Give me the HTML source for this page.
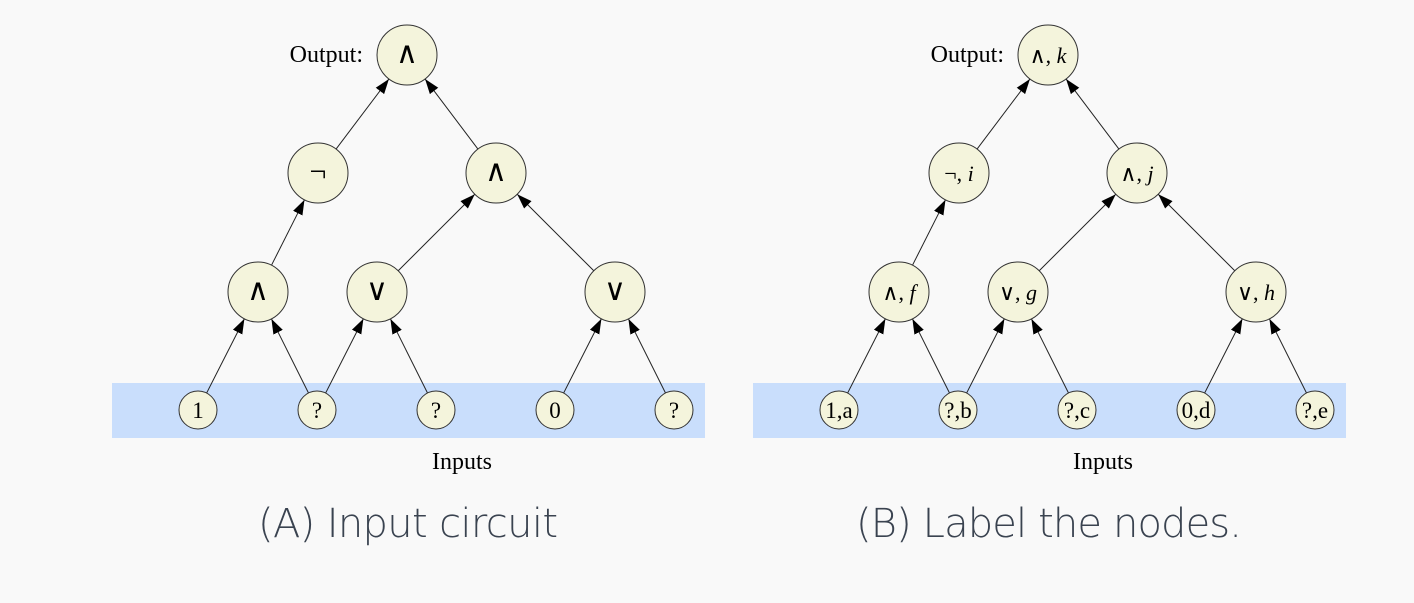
<!DOCTYPE html>
<html><head><meta charset="utf-8"><style>
html,body{margin:0;padding:0;background:#f9f9f9;}
svg{display:block;}
</style></head><body>
<svg id="s" width="1414" height="603" xmlns="http://www.w3.org/2000/svg">
<defs><marker id="ah" viewBox="0 0 10 10" refX="10" refY="5" markerWidth="15" markerHeight="15" orient="auto" markerUnits="userSpaceOnUse"><path d="M0,1.5 L10,5 L0,8.5 z" fill="#000"/></marker></defs>
<rect x="0" y="0" width="1414" height="603" fill="#f9f9f9"/>
</svg>
<script>
const NS='http://www.w3.org/2000/svg';
const svg=document.getElementById('s');
const panelOffsets=[0,641];
const panelNames=['panel-a','panel-b'];
const captions=['(A) Input circuit','(B) Label the nodes.'];
const nodesX=[407,318,496,258,377,615,198,317,436,555,674];
const nodesY=[55,173,173,292,292,292,410,410,410,410,410];
const nodesR=[30,30,30,30,30,30,19,19,19,19,19];
const labelsA=['∧','¬','∧','∧','∨','∨','1','?','?','0','?'];
const symB=['∧','¬','∧','∧','∨','∨','1','?','?','0','?'];
const letB=['k','i','j','f','g','h','a','b','c','d','e'];
const edgesFrom=[1,2,3,4,5,6,7,7,8,9,10];
const edgesTo=[0,0,1,2,2,3,3,4,4,5,5];
function el(t,a,p){const e=document.createElementNS(NS,t);for(const k in a)e.setAttribute(k,a[k]);(p||svg).appendChild(e);return e;}
panelOffsets.forEach((off,pi)=>{
  const g=el('g',{});
  
  
  const band=el('rect',{x:112+off,y:383,width:593,height:55,fill:'#c9defc'},g);
  
  
  edgesFrom.forEach((f,i)=>{
    const t=edgesTo[i];
    const x1=nodesX[f]+off,y1=nodesY[f],x2=nodesX[t]+off,y2=nodesY[t];
    const dx=x2-x1,dy=y2-y1,L=Math.hypot(dx,dy);
    const ux=dx/L,uy=dy/L;
    const ln=el('line',{x1:x1+ux*nodesR[f],y1:y1+uy*nodesR[f],x2:x2-ux*nodesR[t],y2:y2-uy*nodesR[t],stroke:'#222','stroke-width':1,'marker-end':'url(#ah)'},g);
    
    
  });
  nodesX.forEach((x,i)=>{
    const c=el('circle',{cx:x+off,cy:nodesY[i],r:nodesR[i],fill:'#f4f4dc',stroke:'#333','stroke-width':1},g);
    
    
    const big=i<6;
    const tx=el('text',{x:x+off,y:nodesY[i]+(big?8:8),'text-anchor':'middle','font-family':'"Liberation Serif","DejaVu Serif",serif','font-size':big?(pi===0?30:22):23,fill:'#000'},g);
    if(pi===0){tx.textContent=labelsA[i];}
    else{
      const a=document.createElementNS(NS,'tspan');a.textContent=symB[i]+(big?', ':',');tx.appendChild(a);
      const b=document.createElementNS(NS,'tspan');b.textContent=letB[i];if(big)b.setAttribute('font-style','italic');tx.appendChild(b);
    }
    
    
  });
  const o=el('text',{x:363+off,y:62,'text-anchor':'end','font-family':'"Liberation Serif",serif','font-size':24,fill:'#000'},g);
  o.textContent='Output:';
  
  
  const inp=el('text',{x:462+off,y:469,'text-anchor':'middle','font-family':'"Liberation Serif",serif','font-size':24,fill:'#000'},g);
  inp.textContent='Inputs';
  
  
  const cap=el('text',{x:408+off,y:537,'text-anchor':'middle','font-family':'"DejaVu Sans","Liberation Sans",sans-serif','font-size':40,'font-weight':300,fill:'#3a4350',textLength:pi===0?300:386},g);
  cap.textContent=captions[pi];
  
  
});
</script>
</body></html>
